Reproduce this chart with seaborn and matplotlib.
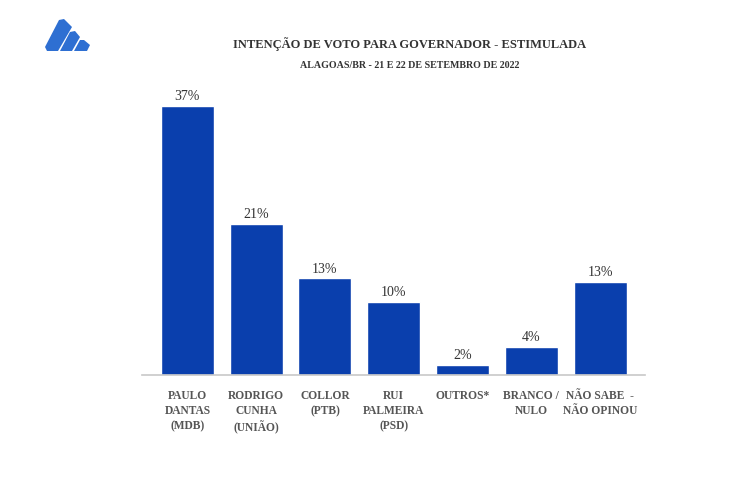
import matplotlib
matplotlib.use("Agg")
import matplotlib.pyplot as plt
from matplotlib.patches import Polygon
import seaborn as sns
import pandas as pd

categories = ["PAULO\nDANTAS\n(MDB)", "RODRIGO\nCUNHA\n(UNIÃO)", "COLLOR\n(PTB)",
              "RUI\nPALMEIRA\n(PSD)", "OUTROS*", "BRANCO /\nNULO", "NÃO SABE  -\nNÃO OPINOU"]
values = [37.0, 20.8, 13.3, 10.1, 1.4, 3.9, 12.8]
value_labels = ["37%", "21%", "13%", "10%", "2%", "4%", "13%"]
title = "INTENÇÃO DE VOTO PARA GOVERNADOR - ESTIMULADA"
subtitle = "ALAGOAS/BR - 21 E 22 DE SETEMBRO DE 2022"

sns.set_theme(style="white")
plt.rcParams['font.family'] = ['Liberation Serif', 'DejaVu Serif']

df = pd.DataFrame({"cat": categories, "val": values})

fig = plt.figure(figsize=(7.36, 5.0), dpi=100)
ax = fig.add_axes([0.193, 0.25, 0.683, 0.582])
sns.barplot(data=df, x="cat", y="val", color="#0a3fad", saturation=1, width=0.77, ax=ax)
ax.set_xlim(-0.66, 6.65)
ax.set_ylim(0, 40)
ax.set_xlabel("")
ax.set_ylabel("")
ax.set_yticks([])
for s in ["top", "right", "left"]:
    ax.spines[s].set_visible(False)
ax.spines["bottom"].set_color("#c8c8c8")
ax.spines["bottom"].set_linewidth(1.2)
ax.tick_params(axis="x", length=0, pad=11)
for t in ax.get_xticklabels():
    t.set_fontsize(8.3)
    t.set_color("#555555")
    t.set_fontweight("semibold")
    t.set_linespacing(1.33)
    t.set_verticalalignment("top")

for i, (v, lab) in enumerate(zip(values, value_labels)):
    ax.text(i, v + 0.35, lab, ha="center", va="bottom", fontsize=10, color="#333333")

fig.text(410/736, 1 - 44/500, title, ha="center", va="center", fontsize=9,
         fontweight="bold", color="#333333")
fig.text(410/736, 1 - 65/500, subtitle, ha="center", va="center", fontsize=7.2,
         fontweight="bold", color="#333333")

def px(pts):
    return [(x/736, 1 - y/500) for x, y in pts]

logo_color = "#2e6fd2"
for pts in [
    [(45, 47), (59, 20), (64, 19), (72, 27), (58, 51), (47, 51)],
    [(60, 51), (70, 32), (75, 31), (80, 37), (72, 51)],
    [(74, 51), (80, 40), (84, 40), (90, 45), (87, 51)],
]:
    fig.patches.append(Polygon(px(pts), closed=True, transform=fig.transFigure,
                               facecolor=logo_color, edgecolor="none"))

fig.savefig("out.png", dpi=100, facecolor="white")
